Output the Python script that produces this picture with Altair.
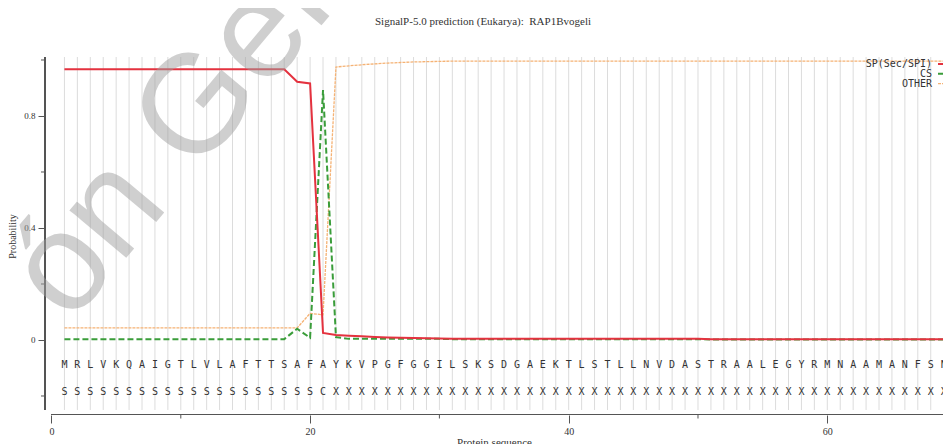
import altair as alt
import pandas as pd

# ---------------- data ----------------
title_text = "SignalP-5.0 prediction (Eukarya): \u00a0RAP1Bvogeli"
sequence = list("MRLVKQAIGTLVLAFTTSAFAYKVPGFGGILSKSDGAEKTLSTLLNVDASTRAALEGYRMNAAMANFSN")
region_labels = ["S"] * 20 + ["C"] + ["X"] * 48
positions = list(range(1, 71))

sp = ([0.967] * 18 + [0.922, 0.916, 0.025, 0.018, 0.015, 0.013, 0.011, 0.009,
      0.008, 0.007, 0.006, 0.005] + [0.004] * 20 + [0.003] * 20)
cs = ([0.003] * 18 + [0.040, 0.008, 0.893, 0.010] + [0.004] * 8 + [0.003] * 20
      + [0.002] * 20)
other = ([0.043] * 19 + [0.095, 0.090, 0.975, 0.979, 0.983, 0.986, 0.989, 0.991,
         0.993, 0.994, 0.995] + [0.996] * 40)

legend_names = ["SP(Sec/SPI)", "CS", "OTHER"]
legend_colors = ["#e4323f", "#3a9d3a", "#f5b274"]
x_major = [0, 20, 40, 60]
x_minor = [10, 30, 50]
y_major = [0.0, 0.4, 0.8]
y_minor = [-0.2, 0.2, 0.6, 1.0]
watermark = "ón Gen"

# ---------------- tables ----------------
curves = pd.DataFrame({"pos": positions, "sp": sp, "cs": cs, "other": other})
seq_df = pd.DataFrame({"pos": list(range(1, len(sequence) + 1)),
                       "aa": sequence, "lab": region_labels})
leg_df = pd.DataFrame({"name": legend_names, "color": legend_colors,
                       "row": [0, 1, 2]})
xmin_df = pd.DataFrame({"v": x_minor})
ymin_df = pd.DataFrame({"v": y_minor})
one = pd.DataFrame({"t": [title_text]})

PX_PER_X = 12.93
PX_PER_Y = 280.0
PLOT_W, PLOT_H = 898, 358
XMIN = -0.5027
XMAX = XMIN + PLOT_W / PX_PER_X
YMIN = -0.2679
YMAX = YMIN + PLOT_H / PX_PER_Y
xs = alt.Scale(domain=[XMIN, XMAX], nice=False, zero=False)
ys = alt.Scale(domain=[YMIN, YMAX], nice=False, zero=False)

serif = "Liberation Serif"
mono = "DejaVu Sans Mono"
axis_grey = "#555"

x_axis = alt.Axis(
    values=x_major, domain=False, grid=False, tickSize=8, tickColor=axis_grey,
    labelFont=serif, labelFontSize=10, labelColor="#333", labelPadding=3,
    labelFlush=False, labelOverlap=False,
    title="Protein sequence", titleFont=serif, titleFontSize=11,
    titleFontWeight="normal", titleColor="#333", titleBaseline="top", titleY=21,
)
y_axis = alt.Axis(
    values=y_major, domain=False, grid=False, format=".1f", tickSize=7,
    tickColor=axis_grey,
    labelExpr="datum.value == 0 ? '0' : datum.label",
    labelFont=serif, labelFontSize=9, labelColor="#333", labelPadding=3,
    labelOverlap=False, labelFlush=False,
    title="Probability", titleFont=serif, titleFontSize=10, titleFontWeight="normal",
    titleColor="#333", titleAngle=270, titleX=-33, titleY=PLOT_H / 2,
    titleAlign="center", titleBaseline="middle",
)

base = alt.Chart(curves)

# invisible layer that carries the two axes
axis_carrier = base.mark_point(opacity=0).encode(
    x=alt.X("pos:Q", scale=xs, axis=x_axis),
    y=alt.Y("sp:Q", scale=ys, axis=y_axis),
)

grid = base.mark_rule(color="#dcdcdc", strokeWidth=1).encode(
    x=alt.X("pos:Q", scale=xs),
    y=alt.YDatum(-0.25, scale=ys),
    y2=alt.Y2Datum(YMAX),
)

yline = base.mark_rule(color=axis_grey, strokeWidth=1).encode(
    x=alt.XDatum(XMIN, scale=xs),
    y=alt.YDatum(-0.25, scale=ys),
    y2=alt.Y2Datum(YMAX),
)
xline = base.mark_rule(color=axis_grey, strokeWidth=1).encode(
    x=alt.XDatum(0, scale=xs),
    x2=alt.X2Datum(XMAX),
    y=alt.YDatum(YMIN + 0.5 / PX_PER_Y, scale=ys),
)
x_minor_ticks = alt.Chart(xmin_df).mark_rule(color=axis_grey, strokeWidth=1).encode(
    x=alt.X("v:Q", scale=xs),
    y=alt.YDatum(YMIN, scale=ys),
    y2=alt.Y2Datum(YMIN - 3.5 / PX_PER_Y),
)
y_minor_ticks = alt.Chart(ymin_df).mark_rule(color=axis_grey, strokeWidth=1).encode(
    y=alt.Y("v:Q", scale=ys),
    x=alt.XDatum(XMIN, scale=xs),
    x2=alt.X2Datum(XMIN - 4 / PX_PER_X),
)

other_line = base.mark_line(color=legend_colors[2], strokeWidth=1.3,
                            strokeDash=[3, 1]).encode(
    x=alt.X("pos:Q", scale=xs),
    y=alt.Y("other:Q", scale=ys),
)
cs_line = base.mark_line(color=legend_colors[1], strokeWidth=2,
                         strokeDash=[6, 3]).encode(
    x=alt.X("pos:Q", scale=xs),
    y=alt.Y("cs:Q", scale=ys),
)
sp_line = base.mark_line(color=legend_colors[0], strokeWidth=2).encode(
    x=alt.X("pos:Q", scale=xs),
    y=alt.Y("sp:Q", scale=ys),
)

seq_text = alt.Chart(seq_df).mark_text(font=mono, fontSize=10, color="#333",
                                      baseline="middle").encode(
    x=alt.X("pos:Q", scale=xs),
    y=alt.YDatum(-0.089, scale=ys),
    text="aa:N",
)
lab_text = alt.Chart(seq_df).mark_text(font=mono, fontSize=10, color="#333",
                                      baseline="middle").encode(
    x=alt.X("pos:Q", scale=xs),
    y=alt.YDatum(-0.186, scale=ys),
    text="lab:N",
)

legend_layers = []
for i, (name, col) in enumerate(zip(legend_names, legend_colors)):
    ly = 7 + 9.8 * i
    t = alt.Chart(leg_df).transform_filter(alt.datum.row == i).mark_text(
        font=mono, fontSize=10, color="#333", align="right", baseline="middle"
    ).encode(x=alt.value(887), y=alt.value(ly), text="name:N")
    dash = [6, 3] if i == 1 else ([3, 1] if i == 2 else [1, 0])
    r = alt.Chart(leg_df).transform_filter(alt.datum.row == i).mark_rule(
        color=col, strokeWidth=2 if i < 2 else 1.3, strokeDash=dash
    ).encode(x=alt.value(893), x2=alt.value(PLOT_W + 5), y=alt.value(ly))
    legend_layers += [t, r]

title_mark = alt.Chart(one).mark_text(
    font=serif, fontSize=11, color="#333", align="center", baseline="alphabetic"
).encode(x=alt.value(438), y=alt.value(-32), text="t:N")

wm = alt.Chart(one).mark_text(
    text=watermark, font="Liberation Sans", fontSize=140, color="#a0a0a0",
    opacity=0.5, angle=310, align="left", baseline="alphabetic"
).encode(x=alt.value(25), y=alt.value(268))

chart = alt.layer(
    axis_carrier, grid, yline, xline, x_minor_ticks, y_minor_ticks,
    other_line, cs_line, sp_line, seq_text, lab_text,
    *legend_layers, title_mark, wm,
).properties(
    width=PLOT_W, height=PLOT_H,
    autosize=alt.AutoSizeParams(type="none"),
    padding={"left": 37, "top": 49, "right": 0, "bottom": 29},
).configure_view(strokeWidth=0)

chart.save("out.html", embed_options={"renderer": "svg", "actions": False})
